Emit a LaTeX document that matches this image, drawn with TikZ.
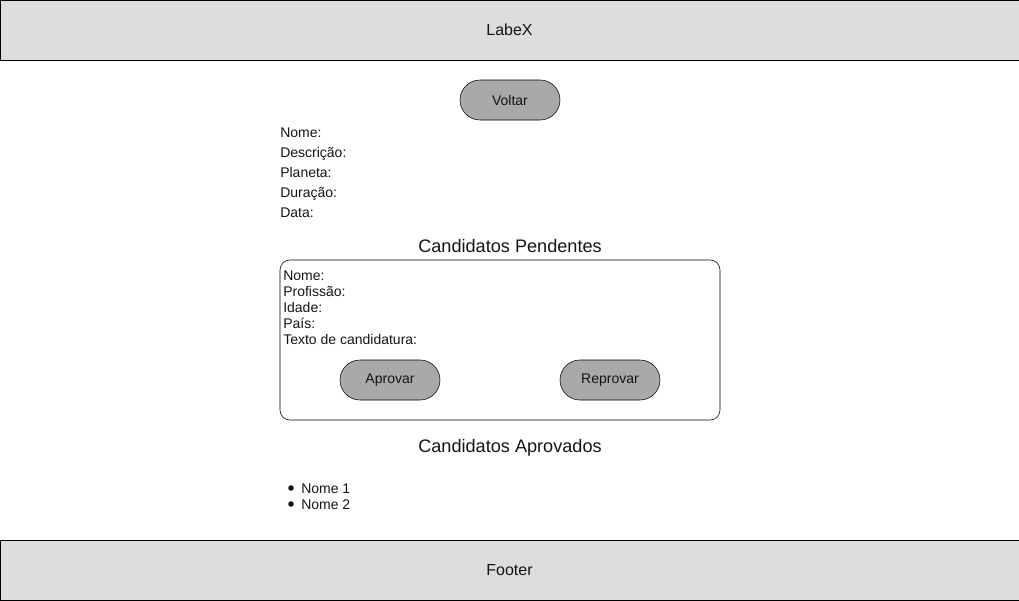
\documentclass[tikz,border=0pt]{standalone}
\usepackage{fontspec}
\setmainfont{Liberation Sans}
\newlength{\du}
\setlength{\du}{0.75pt}
\definecolor{barcolor}{RGB}{221,221,221}
\definecolor{btncolor}{RGB}{169,169,169}
\definecolor{txtcolor}{RGB}{20,20,20}
\tikzset{
  bar/.style={draw, fill=barcolor, minimum width=1019\du, minimum height=60\du, inner sep=0pt, font=\fontsize{12}{14}\selectfont, text=txtcolor},
  pill/.style={draw, fill=btncolor, rounded corners=20\du, minimum width=100\du, minimum height=40\du, inner sep=0pt, font=\fontsize{10.5}{12}\selectfont, text=txtcolor},
  field/.style={anchor=base west, inner sep=0pt, font=\fontsize{10.5}{12}\selectfont, text=txtcolor},
  title/.style={anchor=base, inner sep=0pt, font=\fontsize{13.6}{16}\selectfont, text=txtcolor},
}

\begin{document}
\begin{tikzpicture}
\pgftransformyscale{-1.000000}
\useasboundingbox (0,0) rectangle (1019\du,600\du);

% cabecalho e rodape
\node[bar] (header) at (509.5\du,30\du) {LabeX};
\node[bar] (footer) at (509.5\du,570\du) {Footer};

\node[pill] (voltar) at (510\du,100\du) {Voltar};

% dados da viagem
\node[field] (nome) at (280\du,137\du) {Nome:};
\node[field] (descricao) at (280\du,157\du) {Descri\c{c}\~{a}o:};
\node[field] (planeta) at (280\du,177\du) {Planeta:};
\node[field] (duracao) at (280\du,197\du) {Dura\c{c}\~{a}o:};
\node[field] (data) at (280\du,217\du) {Data:};

\node[title] (pendentes) at (510\du,252.5\du) {Candidatos Pendentes};
\draw[rounded corners=10\du] (280\du,260\du) rectangle (720\du,420\du);
\node[field] (cnome) at (283\du,280\du) {Nome:};
\node[field] (cprof) at (283\du,296\du) {Profiss\~{a}o:};
\node[field] (cidade) at (283\du,312\du) {Idade:};
\node[field] (cpais) at (283\du,328\du) {Pa\'{i}s:};
\node[field] (ctexto) at (283\du,344\du) {Texto de candidatura:};
\node[pill] (aprovar) at (390\du,380\du) {Aprovar};
\node[pill] (reprovar) at (610\du,380\du) {Reprovar};

\node[title] (aprovados) at (510\du,452.5\du) {Candidatos Aprovados};
\fill[txtcolor] (291\du,488\du) circle (2.8\du);
\node[field] (nome1) at (301\du,493\du) {Nome 1};
\fill[txtcolor] (291\du,504\du) circle (2.8\du);
\node[field] (nome2) at (301\du,509\du) {Nome 2};
\end{tikzpicture}
\end{document}
